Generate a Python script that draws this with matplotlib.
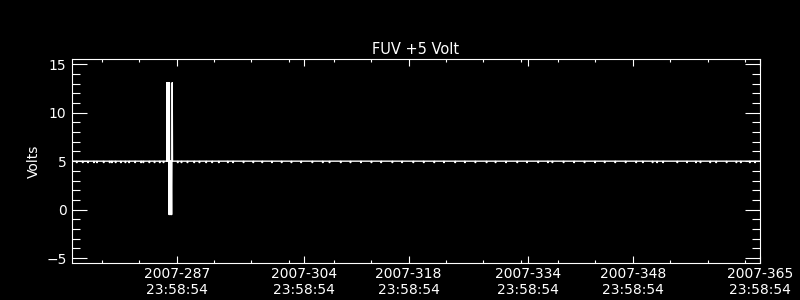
import matplotlib
matplotlib.use("Agg")
import matplotlib.pyplot as plt
from matplotlib.ticker import FixedLocator, MultipleLocator

# x is day of year 2007; each whole number stands for that day at 23:58:54
day_start = 273
day_end = 365
label_days = [287, 304, 318, 334, 348, 365]
minor_days = [277, 282, 292, 297, 302, 308, 313, 323, 328, 333, 338, 343,
              353, 358, 363]
time_of_day = "23:58:54"

nominal = 5.0

# short drops just below the nominal level along the trace
dip_days = [273.6, 274.4, 275.1, 275.9, 276.3, 277.2, 278.0, 278.3, 278.8,
            279.5, 280.1, 280.6, 281.4, 282.2, 282.5, 283.3, 284.0, 284.7,
            285.2, 287.1, 287.6, 288.4, 289.3, 290.0, 290.9, 291.7, 292.6,
            293.8, 294.5, 295.9, 297.2, 298.4, 299.7, 301.0, 302.3, 303.6,
            305.1, 306.5, 307.4, 308.9, 310.2, 311.6, 313.0, 314.3, 315.8,
            317.1, 318.6, 320.0, 321.4, 322.7, 324.2, 325.5, 326.9, 328.4,
            329.6, 331.0, 332.5, 333.8, 335.3, 336.6, 337.2, 338.7, 340.1,
            341.5, 342.9, 344.2, 345.6, 347.0, 348.4, 349.3, 350.6, 351.2,
            352.0, 353.9, 355.2, 356.4, 357.0, 358.3, 359.1, 360.5, 361.8,
            362.4, 363.6, 364.3]
dip_volts = 4.86

# the glitch near day 286
spike_days = [285.66, 285.70, 285.74, 285.78, 285.82, 285.86, 285.90, 285.94,
              285.98, 286.02, 286.06, 286.10, 286.14, 286.18, 286.22, 286.26,
              286.30, 286.34, 286.40, 286.44]
spike_volts = [5.0, 13.1, 5.0, 13.1, 5.0, 13.1, 5.0, 13.1,
               -0.5, 13.1, -0.5, 5.0, -0.5, 5.0, -0.5, 5.0,
               -0.5, -0.5, 13.1, 5.0]

pts = [(day_start, nominal), (day_end, nominal)]
for d in dip_days:
    pts += [(d - 0.01, nominal), (d, dip_volts), (d + 0.08, dip_volts),
            (d + 0.09, nominal)]
pts += list(zip(spike_days, spike_volts))
pts.sort()
days = [p[0] for p in pts]
volts = [p[1] for p in pts]

fig = plt.figure(figsize=(8, 3), dpi=100, facecolor="black")
ax = fig.add_axes([0.09, 0.1233, 0.86, 0.679])
ax.set_facecolor("black")

ax.plot(days, volts, color="white", lw=1.0)

ax.set_xlim(day_start, day_end)
ax.set_ylim(-5.5, 15.5)

ax.xaxis.set_major_locator(FixedLocator(label_days))
ax.xaxis.set_minor_locator(FixedLocator(minor_days))
ax.set_xticklabels(["2007-%d\n%s" % (d, time_of_day) for d in label_days])
ax.yaxis.set_major_locator(MultipleLocator(5))
ax.yaxis.set_minor_locator(MultipleLocator(1))

for s in ax.spines.values():
    s.set_color("white")
    s.set_linewidth(0.8)

ax.tick_params(which="both", direction="in", top=True, right=True,
               colors="white", width=0.8, labelsize=10)
ax.tick_params(axis="x", which="major", length=5, pad=3)
ax.tick_params(axis="x", which="minor", length=2.5)
ax.tick_params(axis="y", which="major", length=10.8, pad=4)
ax.tick_params(axis="y", which="minor", length=5.8)

ax.set_title("FUV +5 Volt", color="white", fontsize=10.5, pad=4)
ax.set_ylabel("Volts", color="white", fontsize=10, labelpad=4)

fig.savefig("out.png", dpi=100, facecolor="black")
